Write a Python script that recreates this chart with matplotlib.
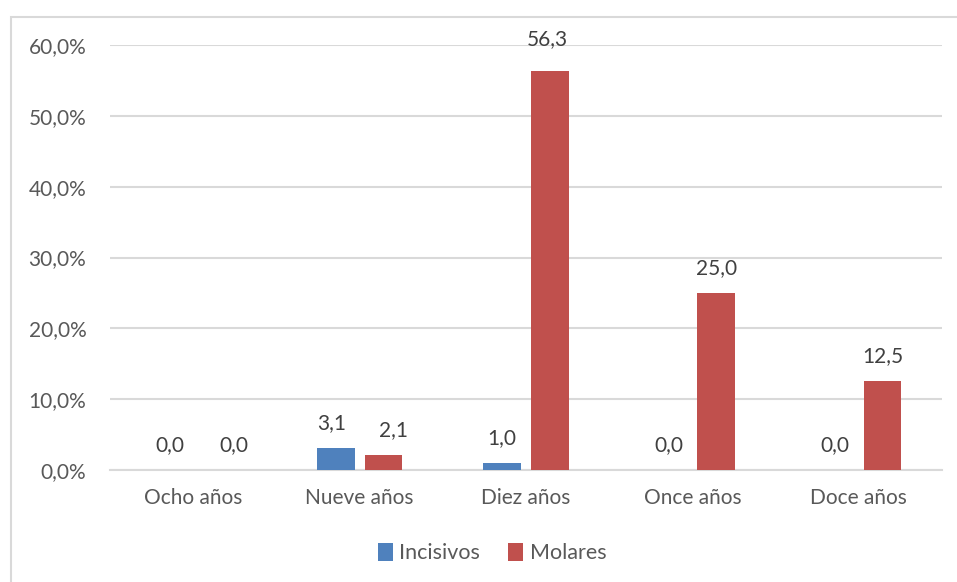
import matplotlib
matplotlib.use("Agg")
import matplotlib.pyplot as plt
from matplotlib.ticker import FuncFormatter
from matplotlib.patches import Rectangle
import numpy as np

categories = ["Ocho años", "Nueve años", "Diez años", "Once años", "Doce años"]
incisivos = [0.0, 3.1, 1.0, 0.0, 0.0]
molares = [0.0, 2.1, 56.3, 25.0, 12.5]
series_names = ["Incisivos", "Molares"]
yticks = [0, 10, 20, 30, 40, 50, 60]

blue = "#4F81BD"
red = "#C0504D"
grid_c = "#D9D9D9"
text_c = "#595959"
label_c = "#404040"
fs = 15

# label nudges (points) for the data labels of each series: (dx, dy)
nudge_inc = [(0, 0), (-3, 0), (0, 0), (0, 0), (0, 0)]
nudge_mol = [(12, 0), (7, 0), (-2, 5), (0, 0), (0, 0)]

plt.rcParams["font.family"] = ["Lato", "DejaVu Sans"]

fig = plt.figure(figsize=(9.57, 5.82), dpi=100)
# chart frame
fig.patches.append(Rectangle((10.5 / 957, -0.05), 1.2, 1 - 16.5 / 582 + 0.05,
                             transform=fig.transFigure, fill=False,
                             edgecolor=grid_c, linewidth=1.5))

ax = fig.add_axes([110 / 957, 1 - 470 / 582, (942 - 110) / 957, (470 - 45) / 582])

x = np.arange(len(categories))
w = 0.225
off = 0.143
b1 = ax.bar(x - off, incisivos, w, color=blue, label=series_names[0], zorder=3)
b2 = ax.bar(x + off, molares, w, color=red, label=series_names[1], zorder=3)

for bars, vals, nudges in ((b1, incisivos, nudge_inc), (b2, molares, nudge_mol)):
    for rect, v, (dx, dy) in zip(bars, vals, nudges):
        ax.annotate(f"{v:.1f}".replace(".", ","),
                    (rect.get_x() + rect.get_width() / 2, v),
                    xytext=(dx, 11 + dy), textcoords="offset points",
                    ha="center", va="bottom", fontsize=fs, color=label_c,
                    annotation_clip=False)

ax.set_xlim(-0.5, len(categories) - 0.5)
ax.set_ylim(0, 60)
ax.set_yticks(yticks)
ax.yaxis.set_major_formatter(FuncFormatter(lambda v, p: f"{v:.1f}%".replace(".", ",")))
ax.set_xticks(x)
ax.set_xticklabels(categories)
ax.tick_params(axis="both", length=0, labelsize=fs, labelcolor=text_c)
ax.tick_params(axis="y", pad=17)
ax.tick_params(axis="x", pad=13)
ax.grid(axis="y", color=grid_c, linewidth=1.5, zorder=0)
for s in ("top", "right", "left"):
    ax.spines[s].set_visible(False)
ax.spines["bottom"].set_color(grid_c)
ax.spines["bottom"].set_linewidth(1.5)

fig.legend(handles=[b1, b2], labels=series_names, loc="center",
           bbox_to_anchor=(492 / 957, 1 - 553 / 582), ncol=2, frameon=False,
           fontsize=fs + 0.5, labelcolor=text_c, handlelength=0.7, handleheight=0.9,
           handletextpad=0.3, columnspacing=1.3)

fig.savefig("out.png", dpi=100)
